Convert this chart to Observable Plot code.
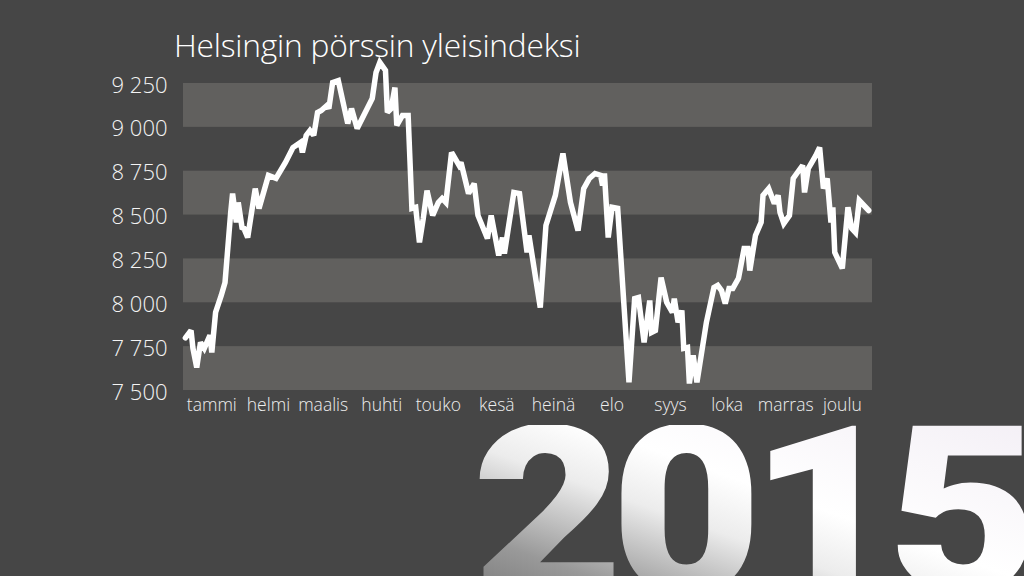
<!DOCTYPE html>
<html>
<head>
<meta charset="utf-8">
<script src="https://cdn.jsdelivr.net/npm/d3@7"></script>
<script src="https://cdn.jsdelivr.net/npm/@observablehq/plot@0.6"></script>
<style>
  html, body { margin: 0; padding: 0; width: 1024px; height: 576px; overflow: hidden; background: #464646; }
  #wrap { position: relative; width: 1024px; height: 576px; overflow: hidden; }
  #chart { position: absolute; left: 0; top: 0; }
  #title { position: absolute; left: 174px; top: 24px; font-family: "Open Sans", sans-serif; font-weight: 300; font-size: 31.7px; line-height: 1.3; color: #ffffff; white-space: nowrap; letter-spacing: -0.2px; }
  #year { position: absolute; left: 472px; top: 425px; font-family: Roboto, sans-serif; font-weight: 900; font-size: 234px; line-height: 0.75; letter-spacing: -12px; white-space: nowrap;
    transform: scaleX(1.12); transform-origin: left top;
    background: linear-gradient(to top right, #6e6e6e 0%, #999999 22%, #ececec 45%, #ffffff 60%, #f4f0f6 100%);
    -webkit-background-clip: text; background-clip: text; color: transparent; padding-bottom: 20px; }
</style>
</head>
<body>
<div id="wrap">
  <div id="chart"></div>
  <div id="title">Helsingin pörssin yleisindeksi</div>
  <div id="year">2015</div>
</div>
<script>
// Daily closing values, dates in 2015 as MM-DD
const dates = [
  "01-02","01-05","01-06","01-08","01-10","01-12","01-15","01-16","01-18","01-21","01-23","01-26","01-27","01-29","01-30",
  "02-01","02-02","02-04","02-08","02-10","02-15","02-19","02-24","02-28",
  "03-04","03-05","03-07","03-09","03-11","03-13","03-15","03-18","03-19","03-21","03-24","03-29","03-31",
  "04-03","04-11","04-13","04-15","04-18","04-19","04-21","04-23","04-24","04-27","04-30",
  "05-02","05-04","05-06","05-08","05-10","05-13","05-16","05-18","05-20","05-23","05-27","05-28",
  "06-01","06-04","06-06","06-11","06-13","06-17","06-19","06-20","06-25","06-28",
  "07-02","07-03","07-09","07-12","07-17","07-21","07-25","07-29",
  "08-01","08-04","08-07","08-10","08-11","08-12","08-14","08-16","08-19","08-25","08-28","08-30",
  "09-02","09-05","09-06","09-08","09-11","09-14","09-17","09-18","09-20","09-22","09-23","09-25","09-26","09-28","09-30",
  "10-05","10-09","10-11","10-13","10-15","10-17","10-19","10-22","10-25","10-27","10-28","10-31",
  "11-03","11-04","11-07","11-10","11-12","11-13","11-15","11-18","11-20","11-23","11-25","11-26","11-28",
  "12-02","12-04","12-06","12-08","12-10","12-11","12-12","12-16","12-19","12-21","12-23","12-25","12-30"
];
const values = [
  7800,7842,7740,7631,7774,7740,7814,7717,7945,8042,8116,8515,8623,8458,8572,
  8429,8424,8372,8651,8538,8726,8709,8800,8885,
  8914,8857,8954,8982,8954,9085,9096,9125,9107,9256,9267,9022,9107,
  8994,9165,9313,9370,9324,9085,9107,9227,9011,9068,9068,
  8538,8544,8344,8480,8640,8498,8572,8595,8572,8857,8783,8800,
  8623,8680,8498,8366,8498,8270,8372,8281,8629,8623,
  8287,8384,7973,8441,8612,8851,8572,8412,
  8651,8709,8737,8726,8669,8737,8372,8544,8538,7546,8024,8030,
  7774,8013,7831,7842,8144,8002,7945,8024,7888,7956,7740,7745,7540,7700,7546,
  7888,8087,8099,8070,7996,8082,8082,8139,8310,8310,8184,8384,
  8458,8612,8651,8566,8612,8515,8452,8498,8709,8754,8783,8629,8766,
  8840,8885,8651,8709,8458,8544,8287,8196,8544,8424,8401,8583,8526
];

// Axis ticks and labels
const yTicks = [7500, 7750, 8000, 8250, 8500, 8750, 9000, 9250];
const yTickLabels = ["7 500", "7 750", "8 000", "8 250", "8 500", "8 750", "9 000", "9 250"];
const monthTicks = ["01-16","02-15","03-16","04-16","05-16","06-16","07-16","08-16","09-16","10-16","11-16","12-16"];
const monthLabels = ["tammi","helmi","maalis","huhti","touko","kesä","heinä","elo","syys","loka","marras","joulu"];

// Alternating light bands (lower, upper bound)
const bandLow = [7500, 8000, 8500, 9000];
const bandHigh = [7750, 8250, 8750, 9250];

const toDate = s => new Date(`2015-${s}T00:00:00Z`);
const xStart = new Date("2015-01-01T00:00:00Z");
const xEnd = new Date("2016-01-01T00:00:00Z");

const data = dates.map((d, i) => ({date: toDate(d), value: values[i]}));
const bands = bandLow.map((lo, i) => ({y1: lo, y2: bandHigh[i], x1: xStart, x2: xEnd}));
const yLabelMap = new Map(yTicks.map((t, i) => [t, yTickLabels[i]]));
const mTickDates = monthTicks.map(toDate);
const mLabelMap = new Map(mTickDates.map((t, i) => [+t, monthLabels[i]]));

const chart = Plot.plot({
  width: 1024,
  height: 576,
  marginLeft: 183,
  marginRight: 152,
  marginTop: 83,
  marginBottom: 186,
  style: {background: "transparent", color: "#f2f2f2", fontFamily: "'Open Sans', sans-serif"},
  x: {type: "utc", domain: [xStart, xEnd]},
  y: {domain: [7500, 9250]},
  marks: [
    Plot.rect(bands, {x1: "x1", x2: "x2", y1: "y1", y2: "y2", fill: "#61605e"}),
    Plot.axisY(yTicks, {tickSize: 0, tickPadding: 16, fontSize: 22, fontWeight: 300, tickFormat: d => yLabelMap.get(d), fill: "#f4f4f4", dy: 2}),
    Plot.axisX(mTickDates, {tickSize: 0, tickPadding: 8, fontSize: 17.5, fontWeight: 300, tickFormat: d => mLabelMap.get(+d), fill: "#eeeeee"}),
    Plot.line(data, {x: "date", y: "value", stroke: "#ffffff", strokeWidth: 5.5, strokeLinejoin: "miter", strokeMiterlimit: 2.5, curve: "linear"})
  ]
});
document.getElementById("chart").appendChild(chart);
</script>
</body>
</html>
